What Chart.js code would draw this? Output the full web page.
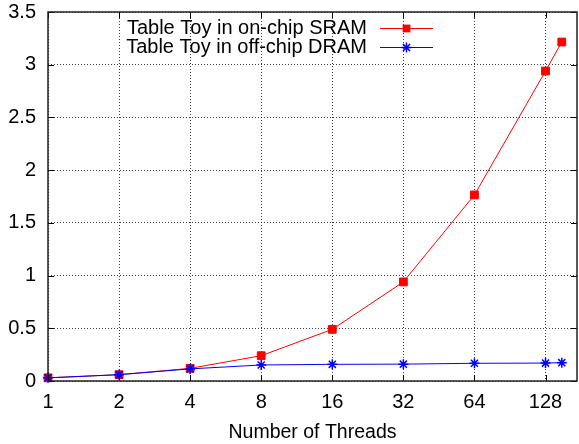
<!DOCTYPE html>
<html>
<head>
<meta charset="utf-8">
<script src="https://cdn.jsdelivr.net/npm/chart.js@4/dist/chart.umd.min.js"></script>
<style>
  html, body { margin: 0; padding: 0; background: #fff; overflow: hidden; }
  #wrap { width: 579px; height: 444px; position: relative; }
  canvas { display: block; }
</style>
</head>
<body>
<div id="wrap"><canvas id="c" width="579" height="444"></canvas></div>
<script>
const threads = [1, 2, 4, 8, 16, 32, 64, 128, 150];
const sramValues = [0.03, 0.06, 0.12, 0.24, 0.49, 0.94, 1.765, 2.94, 3.215];
const dramValues = [0.03, 0.06, 0.115, 0.152, 0.158, 0.16, 0.168, 0.17, 0.174];
const xTickValues = [1, 2, 4, 8, 16, 32, 64, 128];
const yTickValues = [0, 0.5, 1, 1.5, 2, 2.5, 3, 3.5];
const seriesLabels = ['Table Toy in on-chip SRAM', 'Table Toy in off-chip DRAM'];
const xTitle = 'Number of Threads';

const FS = 20;
Chart.defaults.font.family = '"Liberation Sans", Arial, Helvetica, sans-serif';
Chart.defaults.font.size = FS;
Chart.defaults.color = '#000';

const FONT = FS + 'px "Liberation Sans", Arial, sans-serif';

const framePlugin = {
  id: 'frame',
  afterLayout(chart) {
    // pin the plot frame to the reference's frame
    const a = chart.chartArea;
    const targetRight = chart.width - 2;
    if (a.right !== targetRight) {
      a.right = targetRight;
      a.width = a.right - a.left;
      const xs = chart.scales.x;
      xs.right = targetRight;
      xs.width = xs.right - xs.left;
      xs.configure();
    }
  },
  afterDatasetsDraw(chart) {
    const ctx = chart.ctx;
    const a = chart.chartArea;
    const xs = chart.scales.x, ys = chart.scales.y;
    ctx.save();
    ctx.strokeStyle = '#000';
    ctx.lineWidth = 1;
    ctx.beginPath();
    xTickValues.forEach(v => {
      const px = Math.round(xs.getPixelForValue(v)) + 0.5;
      ctx.moveTo(px, a.bottom); ctx.lineTo(px, a.bottom - 6);
      ctx.moveTo(px, a.top); ctx.lineTo(px, a.top + 6);
    });
    yTickValues.forEach(v => {
      const py = Math.round(ys.getPixelForValue(v)) + 0.5;
      ctx.moveTo(a.left, py); ctx.lineTo(a.left + 6, py);
      ctx.moveTo(a.right, py); ctx.lineTo(a.right - 6, py);
    });
    ctx.stroke();
    ctx.lineWidth = 1.5;
    ctx.strokeStyle = '#222';
    ctx.strokeRect(a.left, a.top, a.right - a.left, a.bottom - a.top);
    ctx.restore();
  },
  afterDraw(chart) {
    const ctx = chart.ctx;
    const a = chart.chartArea;
    const textRight = a.right - 210;
    const lineStart = a.right - 197;
    const lineEnd = a.right - 144;
    const rows = [a.top + 16, a.top + 35];
    ctx.save();
    ctx.font = FONT;
    ctx.textAlign = 'right';
    ctx.textBaseline = 'middle';
    chart.data.datasets.forEach((ds, i) => {
      const y = rows[i];
      ctx.fillStyle = '#000';
      ctx.fillText(ds.label, textRight, y);
      ctx.strokeStyle = ds.borderColor;
      ctx.lineWidth = 1;
      ctx.beginPath();
      ctx.moveTo(lineStart, y + 0.5);
      ctx.lineTo(lineEnd, y + 0.5);
      ctx.stroke();
      const cx = (lineStart + lineEnd) / 2, cy = y + 0.5, r = ds.pointRadius;
      ctx.fillStyle = ds.pointBackgroundColor;
      ctx.strokeStyle = ds.pointBorderColor;
      ctx.lineWidth = ds.pointBorderWidth || 1;
      ctx.beginPath();
      if (ds.pointStyle === 'rect') {
        const s = r * Math.SQRT1_2;
        ctx.rect(cx - s, cy - s, 2 * s, 2 * s);
        ctx.fill();
      } else {
        ctx.moveTo(cx - r, cy); ctx.lineTo(cx + r, cy);
        ctx.moveTo(cx, cy - r); ctx.lineTo(cx, cy + r);
        const d = r * Math.SQRT1_2;
        ctx.moveTo(cx - d, cy - d); ctx.lineTo(cx + d, cy + d);
        ctx.moveTo(cx - d, cy + d); ctx.lineTo(cx + d, cy - d);
        ctx.stroke();
      }
    });
    ctx.restore();
  }
};

new Chart(document.getElementById('c'), {
  type: 'line',
  data: {
    datasets: [
      {
        label: seriesLabels[0],
        data: threads.map((t, i) => ({ x: t, y: sramValues[i] })),
        borderColor: '#ff0000',
        backgroundColor: '#ff0000',
        pointBackgroundColor: '#ff0000',
        pointBorderColor: '#ff0000',
        pointStyle: 'rect',
        pointRadius: 5.5,
        pointBorderWidth: 1,
        borderWidth: 1,
        tension: 0,
        clip: false,
        order: 1
      },
      {
        label: seriesLabels[1],
        data: threads.map((t, i) => ({ x: t, y: dramValues[i] })),
        borderColor: '#0000ff',
        backgroundColor: '#0000ff',
        pointBackgroundColor: '#0000ff',
        pointBorderColor: '#0000ff',
        pointStyle: 'star',
        pointRadius: 5,
        pointBorderWidth: 1.5,
        borderWidth: 1,
        tension: 0,
        clip: false,
        order: 0
      }
    ]
  },
  options: {
    responsive: false,
    animation: false,
    events: [],
    layout: { padding: { top: 12, right: 2, left: 0, bottom: 0 } },
    plugins: { legend: { display: false }, tooltip: { enabled: false } },
    scales: {
      x: {
        type: 'logarithmic',
        min: 1,
        max: 174,
        afterBuildTicks(scale) {
          scale.ticks = xTickValues.map(v => ({ value: v }));
        },
        afterFit(scale) {
          scale.height = 63;
          scale.paddingLeft = 0;
          scale.paddingRight = 0;
        },
        ticks: {
          autoSkip: false,
          maxRotation: 0,
          padding: 9,
          callback: (v) => String(v),
          font: { size: FS }
        },
        grid: { color: 'rgba(0,0,0,0.75)', lineWidth: 1, drawTicks: false },
        border: { display: false, dash: [1, 2] },
        title: { display: true, text: xTitle, font: { size: 19.5 }, padding: { top: 4, bottom: 0 } }
      },
      y: {
        min: 0,
        max: 3.5,
        afterBuildTicks(scale) {
          scale.ticks = yTickValues.map(v => ({ value: v }));
        },
        afterFit(scale) { scale.width = 48; scale.paddingTop = 0; scale.paddingBottom = 0; },
        ticks: {
          padding: 12,
          callback: (v) => String(v),
          font: { size: FS }
        },
        grid: { color: 'rgba(0,0,0,0.75)', lineWidth: 1, drawTicks: false },
        border: { display: false, dash: [1, 2] }
      }
    }
  },
  plugins: [framePlugin]
});
</script>
</body>
</html>
